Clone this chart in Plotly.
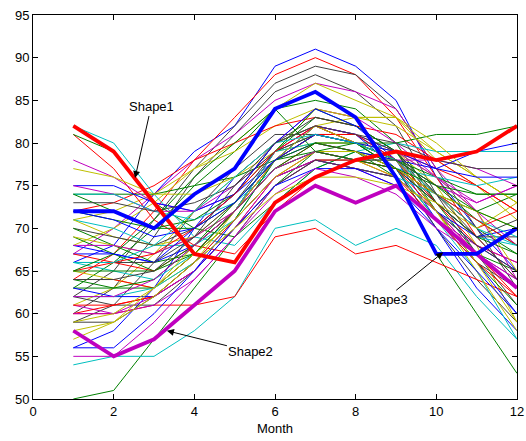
import plotly.graph_objects as go

months = list(range(1, 13))

# MATLAB classic colour order
B, G, R, C, M, Y, K = "#0000ff", "#008000", "#ff0000", "#00bfbf", "#bf00bf", "#bfbf00", "#404040"

series_colors = [B, R, K, K, M, Y, G, Y, R, B, K, Y, G, C, R, C, G, R, G, M,
                 Y, B, M, C, G, K, G, C, Y, K, G, G, Y, B, M, B, R, K, C, R,
                 Y, R, G, G, B, C, K, M, R, R, M, K, Y, Y, B, M, B, C, G, M,
                 Y, K, G]

series_values = [
    [66, 68, 74, 79, 82, 89, 91, 89, 85, 76, 70, 65],
    [64, 67, 72, 78, 83, 88, 90, 88, 83, 76, 69, 64],
    [62, 65, 71, 77, 82, 87, 89, 88, 84, 77, 70, 63],
    [60, 63, 69, 76, 81, 86, 88, 86, 82, 74, 67, 61],
    [67, 70, 74, 78, 81, 85, 87, 86, 84, 77, 72, 68],
    [68, 70, 73, 77, 80, 84, 87, 85, 83, 78, 75, 71],
    [63, 66, 70, 75, 79, 84, 85, 84, 80, 73, 67, 63],
    [71, 72, 74, 77, 79, 82, 84, 83, 83, 79, 76, 73],
    [72, 73, 75, 78, 80, 82, 83, 82, 81, 78, 75, 72],
    [56, 58, 63, 70, 76, 80, 82, 81, 77, 70, 63, 58],
    [59, 61, 66, 72, 77, 81, 81, 80, 77, 70, 64, 59],
    [61, 63, 67, 72, 76, 79, 80, 80, 79, 75, 68, 59],
    [50, 51, 57, 63, 69, 75, 79, 79, 76, 67, 60, 53],
    [54, 55, 55, 58, 62, 70, 71, 68, 70, 68, 62, 57],
    [60, 60, 61, 61, 62, 69, 70, 67, 68, 66, 64, 62],
    [82, 80, 74, 69, 68, 73, 77, 79, 80, 79, 79, 79],
    [74, 74, 74, 75, 76, 78, 79, 80, 80, 81, 81, 82],
    [81, 77, 71, 68, 67, 72, 76, 78, 79, 77, 75, 72],
    [81, 79, 73, 70, 69, 73, 77, 79, 78, 76, 74, 74],
    [78, 76, 73, 72, 74, 80, 84, 83, 80, 76, 73, 75],
    [77, 76, 74, 74, 76, 80, 82, 83, 82, 79, 76, 73],
    [75, 75, 73, 72, 74, 78, 80, 79, 78, 77, 79, 80],
    [75, 74, 72, 72, 75, 79, 82, 80, 78, 78, 77, 75],
    [74, 74, 72, 71, 73, 77, 79, 78, 77, 76, 75, 76],
    [74, 72, 70, 70, 73, 78, 81, 80, 77, 74, 72, 74],
    [73, 73, 72, 73, 75, 79, 81, 81, 80, 78, 77, 77],
    [72, 71, 70, 71, 74, 79, 83, 82, 79, 74, 70, 67],
    [71, 70, 68, 68, 71, 78, 81, 80, 78, 73, 69, 68],
    [71, 69, 68, 69, 72, 79, 84, 83, 83, 80, 76, 73],
    [70, 69, 68, 70, 74, 80, 83, 82, 79, 73, 69, 69],
    [70, 68, 66, 67, 71, 78, 82, 80, 77, 71, 67, 65],
    [69, 67, 65, 67, 72, 79, 84, 82, 79, 72, 66, 61],
    [69, 68, 67, 69, 73, 78, 81, 80, 79, 76, 72, 70],
    [68, 67, 66, 68, 72, 78, 82, 81, 78, 72, 68, 65],
    [68, 68, 67, 69, 72, 79, 82, 81, 79, 76, 72, 64],
    [67, 67, 66, 70, 74, 80, 84, 82, 78, 71, 66, 60],
    [67, 66, 65, 68, 72, 78, 81, 81, 78, 73, 68, 66],
    [66, 66, 66, 69, 73, 79, 81, 80, 78, 72, 66, 63],
    [66, 65, 64, 67, 72, 79, 80, 79, 77, 71, 65, 57],
    [65, 66, 67, 70, 74, 79, 82, 80, 78, 74, 70, 72],
    [65, 64, 63, 66, 72, 78, 82, 80, 78, 72, 65, 58],
    [64, 64, 63, 67, 72, 77, 80, 79, 77, 72, 67, 62],
    [64, 63, 63, 67, 72, 77, 80, 79, 77, 73, 69, 67],
    [63, 63, 64, 68, 73, 78, 80, 80, 78, 75, 71, 68],
    [63, 62, 62, 65, 71, 76, 78, 77, 76, 72, 69, 70],
    [62, 62, 63, 66, 71, 76, 78, 77, 76, 74, 71, 69],
    [62, 61, 61, 65, 70, 75, 78, 78, 77, 73, 69, 71],
    [61, 60, 61, 64, 69, 75, 78, 77, 76, 72, 67, 64],
    [61, 61, 62, 65, 70, 76, 79, 78, 77, 74, 71, 68],
    [60, 61, 62, 66, 71, 76, 78, 78, 76, 71, 66, 62],
    [60, 60, 62, 65, 70, 76, 78, 77, 75, 71, 68, 66],
    [59, 59, 62, 66, 70, 75, 78, 77, 76, 72, 68, 65],
    [59, 60, 63, 67, 71, 76, 79, 79, 77, 74, 72, 65],
    [57, 59, 63, 68, 72, 77, 79, 78, 76, 72, 66, 59],
    [56, 56, 60, 65, 70, 75, 77, 77, 75, 70, 65, 60],
    [55, 55, 59, 64, 69, 74, 77, 76, 74, 70, 67, 64],
    [72, 71, 69, 70, 73, 78, 81, 80, 79, 77, 76, 76],
    [66, 66, 68, 72, 76, 80, 81, 80, 78, 74, 70, 68],
    [65, 65, 65, 68, 72, 77, 79, 78, 77, 75, 74, 74],
    [62, 62, 64, 68, 72, 77, 79, 78, 78, 75, 73, 75],
    [58, 59, 62, 66, 70, 74, 76, 76, 75, 73, 70, 73],
    [64, 64, 65, 69, 75, 80, 82, 81, 79, 74, 69, 64],
    [65, 67, 71, 76, 80, 84, 79, 78, 78, 75, 72, 70],
]

shape1 = [82, 79, 73, 67, 66, 73, 76, 78, 79, 78, 79, 82]
shape2 = [58, 55, 57, 61, 65, 72, 75, 73, 75, 71, 67, 63]
shape3 = [72, 72, 70, 74, 77, 84, 86, 83, 76, 67, 67, 70]

x_ticks = [0, 2, 4, 6, 8, 10, 12]
y_ticks = [50, 55, 60, 65, 70, 75, 80, 85, 90, 95]

fig = go.Figure()
for vals, col in zip(series_values, series_colors):
    fig.add_trace(go.Scatter(x=months, y=vals, mode="lines",
                             line=dict(color=col, width=1), hoverinfo="skip"))

for vals, col in [(shape1, R), (shape2, M), (shape3, B)]:
    fig.add_trace(go.Scatter(x=months, y=vals, mode="lines",
                             line=dict(color=col, width=3.8), hoverinfo="skip"))

ann_common = dict(showarrow=True, arrowhead=2, arrowsize=1.4, arrowwidth=1,
                  arrowcolor="black", font=dict(size=13, color="black"),
                  xref="x", yref="y")
fig.add_annotation(text="Shape1", x=2.53, y=75.9, ax=16, ay=-71, **ann_common)
fig.add_annotation(text="Shape2", x=3.32, y=58.0, ax=84, ay=21, **ann_common)
fig.add_annotation(text="Shape3", x=10.17, y=67.2, ax=-58, ay=47, **ann_common)

axis_common = dict(showline=True, linecolor="black", linewidth=1, mirror="ticks",
                   ticks="inside", ticklen=5, tickcolor="black", showgrid=False,
                   zeroline=False, automargin=False,
                   tickfont=dict(size=13, color="black"))

fig.update_layout(
    width=526, height=441,
    margin=dict(l=33, r=9, t=15, b=42),
    paper_bgcolor="white", plot_bgcolor="white",
    showlegend=False,
    font=dict(family="Liberation Sans, Arial, sans-serif", size=13, color="black"),
    xaxis=dict(range=[0, 12], tickvals=x_ticks,
               title=dict(text="Month", standoff=6, font=dict(size=13)), **axis_common),
    yaxis=dict(range=[50, 95], tickvals=y_ticks, **axis_common),
)

fig.write_html("out.html", config={"displayModeBar": False})

# remove the browser's default body margin so the figure sits at the page origin
with open("out.html", "r", encoding="utf-8") as f:
    html = f.read()
html = html.replace("<body>", '<body style="margin:0;padding:0;">', 1)
html = html.replace("<head>", "<head><style>html,body{margin:0;padding:0;overflow:hidden;}</style>", 1)
with open("out.html", "w", encoding="utf-8") as f:
    f.write(html)
